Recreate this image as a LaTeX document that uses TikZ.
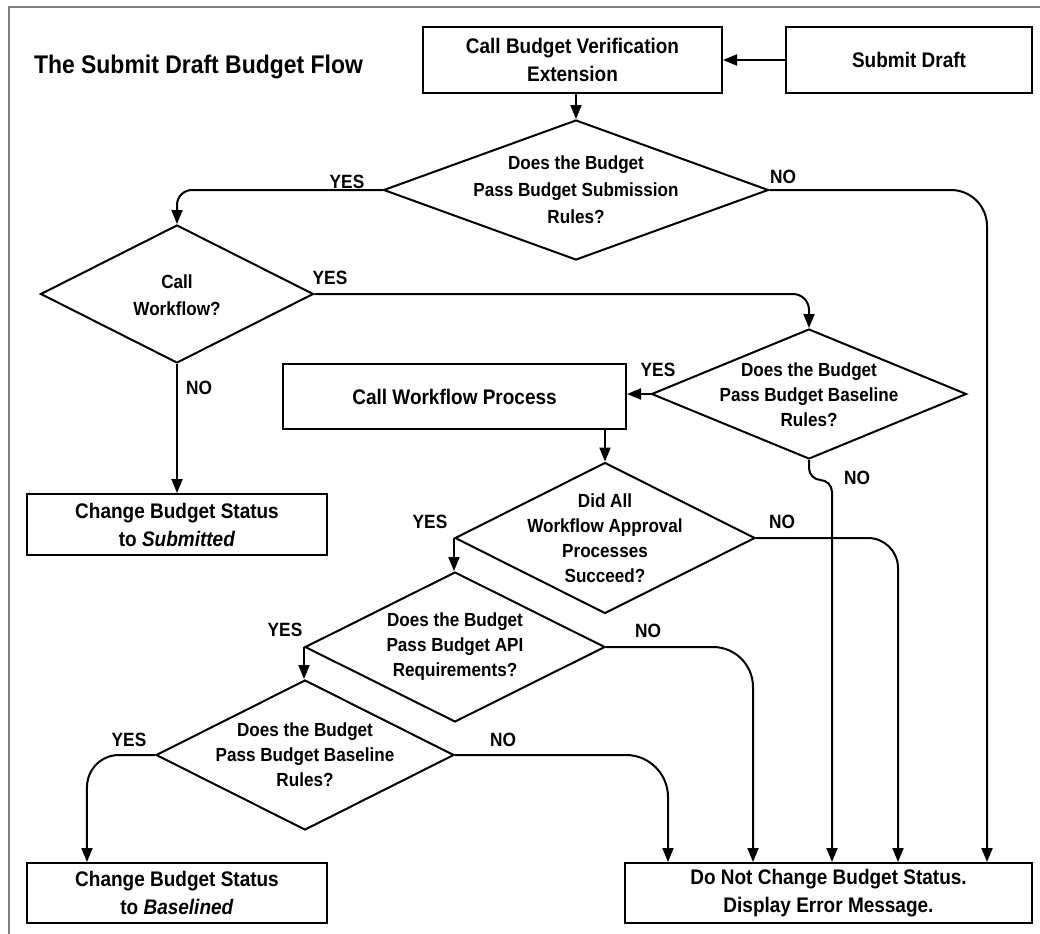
\documentclass[tikz,border=0pt]{standalone}
\usepackage{fontspec}
\setmainfont{Liberation Sans}[FakeStretch=0.9]
\usetikzlibrary{shapes.geometric,arrows.meta}
\newcommand\bxfont{\fontsize{21.1bp}{28bp}\selectfont\bfseries}
\newcommand\dmfont{\fontsize{19bp}{25bp}\selectfont\bfseries}
\newcommand\dmwide{\fontsize{19bp}{27bp}\selectfont\bfseries}
\newcommand\lbfont{\fontsize{19.2bp}{20bp}\selectfont\bfseries}
\newcommand\ttlfont{\fontsize{25.5bp}{28bp}\selectfont\bfseries}
\begin{document}
\begin{tikzpicture}[x=1bp,y=-1bp,line width=2bp,
  box/.style={draw, rectangle, inner sep=0pt, align=center, font=\bxfont},
  dia/.style={draw, diamond, inner sep=0pt},
  dtext/.style={align=center, font=\dmfont, inner sep=0pt},
  lbl/.style={font=\lbfont, inner sep=0pt},
  arr/.style={-{Triangle[length=14bp,width=11bp]}},
  frame/.style={draw=black!50, line width=2.6bp}]
\useasboundingbox (0,0) rectangle (1040,934);

% open frame along the top and left
\draw[frame] (9,934) -- (9,7) -- (1040,7);

\node[anchor=base west, font=\ttlfont, inner sep=0pt] (title) at (33,73) {The Submit Draft Budget Flow};

% process boxes
\node[box, minimum width=299bp, minimum height=66bp] (verify) at (572.5,60) {Call Budget Verification\\Extension};
\node[box, minimum width=246bp, minimum height=66bp] (submit) at (909,60) {Submit Draft};
\node[box, minimum width=343bp, minimum height=65bp] (callwf) at (454.5,396.5) {Call Workflow Process};
\node[box, minimum width=300bp, minimum height=61bp] (submitted) at (177,524.5) {Change Budget Status\\to \textit{Submitted}};
\node[box, minimum width=300bp, minimum height=60bp] (based) at (177,893) {Change Budget Status\\to \textit{Baselined}};
\node[box, minimum width=407bp, minimum height=60bp] (err) at (828.5,893) {Do Not Change Budget Status.\\Display Error Message.};

% decisions
\node[dia, minimum width=385bp, minimum height=140bp] (d1) at (576,190) {};
\node[dtext, font=\dmwide] (d1t) at (576,190) {Does the Budget\\Pass Budget Submission\\Rules?};
\node[dia, minimum width=273bp, minimum height=138bp] (d2) at (177,294) {};
\node[dtext, font=\dmwide] (d2t) at (177,295) {Call\\Workflow?};
\node[dia, minimum width=315bp, minimum height=130bp] (d3) at (809,394) {};
\node[dtext] (d3t) at (809,395) {Does the Budget\\Pass Budget Baseline\\Rules?};
\node[dia, minimum width=300bp, minimum height=151bp] (d4) at (605,538) {};
\node[dtext] (d4t) at (605,538) {Did All\\Workflow Approval\\Processes\\Succeed?};
\node[dia, minimum width=300bp, minimum height=150bp] (d5) at (455,647) {};
\node[dtext] (d5t) at (455,647) {Does the Budget\\Pass Budget API\\Requirements?};
\node[dia, minimum width=298bp, minimum height=150bp] (d6) at (305,755) {};
\node[dtext] (d6t) at (305,755) {Does the Budget\\Pass Budget Baseline\\Rules?};

% branch labels
\node[lbl] (y1) at (347,182) {YES};
\node[lbl] (n1) at (783,177) {NO};
\node[lbl] (y2) at (330,278) {YES};
\node[lbl] (n2) at (199,388) {NO};
\node[lbl] (y3) at (658,370) {YES};
\node[lbl] (n3) at (857,478) {NO};
\node[lbl] (y4) at (430,522) {YES};
\node[lbl] (n4) at (782,522) {NO};
\node[lbl] (y5) at (285,630) {YES};
\node[lbl] (n5) at (648,631) {NO};
\node[lbl] (y6) at (129,740) {YES};
\node[lbl] (n6) at (503,740) {NO};

% connectors
\draw[arr] (submit.west) -- (verify.east);
\draw[arr] (verify.south -| d1.north) -- (d1.north);
\draw[arr, rounded corners=15bp] (d1.west) -| (d2.north);
\draw[arr, rounded corners=36bp] (d1.east) -| ([xshift=-46bp]err.north east);
\draw[arr, rounded corners=16bp] (d2.east) -| (d3.north);
\draw[arr] (d2.south) -- (submitted.north);
\draw[arr] (d3.west) -- (d3.west -| callwf.east);
\draw[arr, rounded corners=12bp] (d3.south) -- ++(0,20) -| ([xshift=208bp]err.north west);
\draw[arr] (callwf.south -| d4.north) -- (d4.north);
\draw[arr] (d4.west) -- (d4.west |- d5.north);
\draw[arr, rounded corners=30bp] (d4.east) -| ([xshift=274bp]err.north west);
\draw[arr] (d5.west) -- (d5.west |- d6.north);
\draw[arr, rounded corners=40bp] (d5.east) -| ([xshift=129bp]err.north west);
\draw[arr, rounded corners=32bp] (d6.west) -| ([xshift=61bp]based.north west);
\draw[arr, rounded corners=42bp] (d6.east) -| ([xshift=44bp]err.north west);
\end{tikzpicture}
\end{document}
